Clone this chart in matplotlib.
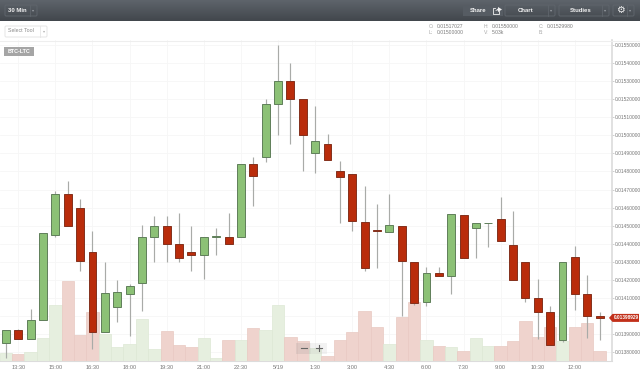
import numpy as np
import matplotlib
matplotlib.use('Agg')
import matplotlib.pyplot as plt
from matplotlib.patches import Rectangle, Polygon, FancyBboxPatch

plt.rcParams['font.family'] = ['Liberation Sans', 'DejaVu Sans']

# ---------- data ----------
opens = [0.013852, 0.013920, 0.013870, 0.013980, 0.014450, 0.014673, 0.014600, 0.014356, 0.013910, 0.014048,
         0.014120, 0.014180, 0.014440, 0.014500, 0.014400, 0.014354, 0.014340, 0.014438, 0.014440, 0.014440,
         0.014842, 0.014880, 0.015176, 0.015300, 0.015200, 0.014903, 0.014954, 0.014800, 0.014786, 0.014522,
         0.014476, 0.014463, 0.014500, 0.014300, 0.014079, 0.014240, 0.014220, 0.014560, 0.014485, 0.014516,
         0.014538, 0.014394, 0.014300, 0.014097, 0.014022, 0.013865, 0.014328, 0.014120, 0.014000]
highs = [0.013920, 0.013930, 0.014040, 0.014460, 0.014690, 0.014750, 0.014650, 0.014470, 0.014300, 0.014200,
         0.014175, 0.014505, 0.014555, 0.014555, 0.014570, 0.014500, 0.014440, 0.014487, 0.014570, 0.014840,
         0.014878, 0.015200, 0.015500, 0.015403, 0.015200, 0.015160, 0.015008, 0.014856, 0.014786, 0.014720,
         0.014622, 0.014674, 0.014500, 0.014300, 0.014270, 0.014270, 0.014565, 0.014560, 0.014516, 0.014516,
         0.014660, 0.014580, 0.014300, 0.014203, 0.014057, 0.014300, 0.014385, 0.014227, 0.014020]
lows = [0.013770, 0.013870, 0.013870, 0.013980, 0.014440, 0.014500, 0.014250, 0.013815, 0.013910, 0.013965,
        0.013890, 0.014030, 0.014300, 0.014300, 0.014300, 0.014250, 0.014206, 0.014340, 0.014400, 0.014440,
        0.014609, 0.014855, 0.015000, 0.014954, 0.014800, 0.014790, 0.014864, 0.014514, 0.014472, 0.014250,
        0.014264, 0.014463, 0.014002, 0.014060, 0.014057, 0.014220, 0.014120, 0.014320, 0.014320, 0.014383,
        0.014415, 0.014200, 0.014080, 0.013874, 0.013840, 0.013856, 0.014035, 0.013880, 0.013867]
closes = [0.013920, 0.013870, 0.013980, 0.014457, 0.014673, 0.014500, 0.014304, 0.013910, 0.014125, 0.014130,
          0.014164, 0.014440, 0.014500, 0.014400, 0.014320, 0.014340, 0.014440, 0.014442, 0.014400, 0.014842,
          0.014775, 0.015172, 0.015300, 0.015200, 0.015000, 0.014970, 0.014864, 0.014770, 0.014525, 0.014264,
          0.014470, 0.014502, 0.014302, 0.014070, 0.014240, 0.014220, 0.014562, 0.014320, 0.014516, 0.014516,
          0.014415, 0.014200, 0.014100, 0.014022, 0.013840, 0.014300, 0.014123, 0.014000, 0.013990]
volumes = [8, 7, 9, 23, 56, 80, 26, 49, 27, 14, 17, 42, 12, 30, 16, 14, 23, 3, 21, 21, 33, 31, 56, 24, 20,
           13, 5, 21, 29, 50, 34, 17, 44, 59, 21, 15, 14, 10, 23, 15, 15, 20, 40, 24, 34, 20, 34, 38, 10]
time_labels = ['13:30', '15:00', '16:30', '18:00', '19:30', '21:00', '22:30', '5/19', '1:30', '3:00',
               '4:30', '6:00', '7:30', '9:00', '10:30', '12:00']
price_ticks = [0.0138, 0.0139, 0.0140, 0.0141, 0.0142, 0.0143, 0.0144, 0.0145, 0.0146, 0.0147, 0.0148, 0.0149,
               0.0150, 0.0151, 0.0152, 0.0153, 0.0154, 0.0155]
hidden_tick = 0.0140   # sits under the last price tag
last_price = 0.01398929

opens, highs, lows, closes = map(np.array, (opens, highs, lows, closes))
idx = np.arange(len(opens))
up = closes >= opens

W, H = 640, 370
fig = plt.figure(figsize=(W / 100, H / 100), dpi=100, facecolor='white')
rect = [0, (H - 361.3) / H, 612 / W, (361.3 - 40) / H]
xlim = (-0.477, 49.0)
ylim = (0.013749, 0.015528)

# ---------- grid, ticks ----------
ax_bg = fig.add_axes(rect, zorder=1)
ax_bg.set_xlim(xlim); ax_bg.set_ylim(ylim)
ax_bg.set_xticks(idx[1::3][:len(time_labels)], time_labels)
ax_bg.set_yticks(price_ticks, ['' if p == hidden_tick else '%.8f' % p for p in price_ticks])
ax_bg.yaxis.tick_right()
ax_bg.grid(color='#f6f6f6', lw=0.6)
ax_bg.tick_params(axis='x', length=0, labelsize=4.1, labelcolor='#777777', pad=3)
ax_bg.tick_params(axis='y', length=1.5, width=0.5, color='#bbbbbb', labelsize=3.5, labelcolor='#777777', pad=0.6)
for s in ['top', 'left']:
    ax_bg.spines[s].set_visible(False)
ax_bg.spines['right'].set_color('#dcdcdc'); ax_bg.spines['right'].set_linewidth(1.2)
ax_bg.spines['bottom'].set_color('#dcdcdc'); ax_bg.spines['bottom'].set_linewidth(0.8)

# ---------- volume ----------
ax_vol = fig.add_axes(rect, zorder=2)
ax_vol.patch.set_alpha(0)
ax_vol.set_xlim(xlim); ax_vol.set_ylim(0, 321.3)
ax_vol.axis('off')
vol_cols = ['#e6efdf' if u else '#efd3cd' for u in up]
vol_edge = ['#dde8d5' if u else '#e9c9c2' for u in up]
ax_vol.bar(idx, volumes, width=1.0, color=vol_cols, edgecolor=vol_edge, linewidth=0.5)

# ---------- candles ----------
ax = fig.add_axes(rect, zorder=3)
ax.patch.set_alpha(0)
ax.set_xlim(xlim); ax.set_ylim(ylim)
ax.axis('off')
ax.vlines(idx, lows, highs, color='#a9aba8', lw=0.85, zorder=1)
body_cols = ['#8cc176' if u else '#b92c0b' for u in up]
body_edge = ['#5f7f5a' if u else '#84301c' for u in up]
ax.bar(idx, np.abs(closes - opens), bottom=np.minimum(opens, closes), width=0.64,
       color=body_cols, edgecolor=body_edge, linewidth=0.7, zorder=2)

# ---------- page chrome, in pixels ----------
ui = fig.add_axes([0, 0, 1, 1], zorder=4)
ui.patch.set_alpha(0)
ui.set_xlim(0, W); ui.set_ylim(H, 0)
ui.axis('off')

grad = np.linspace(0, 1, 22)[:, None, None] * (np.array([66, 71, 77]) - np.array([95, 101, 108])) + np.array([95, 101, 108])
ui.imshow(grad.astype(np.uint8), extent=(0, W, 21.5, 0), aspect='auto', zorder=0)
ui.set_xlim(0, W); ui.set_ylim(H, 0)
ui.plot([0, W], [40.5, 40.5], color='#eeeeee', lw=0.8)

def button(x0, x1, y0=5, y1=16, sep=None):
    ui.add_patch(FancyBboxPatch((x0, y0), x1 - x0, y1 - y0, boxstyle='round,pad=0,rounding_size=1.2',
                                fc='none', ec='#5f656c', lw=0.7, zorder=1))
    if sep:
        ui.plot([sep, sep], [y0, y1], color='#5f656c', lw=0.6, zorder=1)
        ui.text((sep + x1) / 2, (y0 + y1) / 2, '▾', color='#9a9fa5', fontsize=3,
                ha='center', va='center', zorder=2)

button(5, 37, sep=30)
button(505, 555, sep=548)
button(559, 609, sep=602)
button(613, 634, sep=627)
ui.add_patch(Rectangle((463, 5), 40, 11, fc='#565c63', ec='none', zorder=1))
for x, s in [(17.5, '30 Min'), (478, 'Share'), (526, 'Chart'), (581, 'Studies')]:
    ui.text(x, 10.5, s, color='#f2f2f2', fontsize=4.3, fontweight='bold', ha='center', va='center', zorder=3)

# share icon and gear
ui.plot([495, 493, 493, 499, 499], [8, 8, 13.5, 13.5, 11], color='#f0f0f0', lw=0.6, zorder=3)
ui.add_patch(Polygon([[495, 11], [498, 8.5], [498, 7], [502, 9.5], [498, 12], [498, 10.3]],
                     fc='#f0f0f0', ec='none', zorder=3))
ui.text(620, 10.3, '⚙', color='#f0f0f0', fontsize=7, ha='center', va='center', zorder=3,
        family=['DejaVu Sans'])

# select tool box
ui.add_patch(FancyBboxPatch((5, 26), 42, 11, boxstyle='round,pad=0,rounding_size=1.2',
                            fc='white', ec='#e6e6e6', lw=0.7, zorder=1))
ui.plot([40, 40], [26, 37], color='#e6e6e6', lw=0.6, zorder=1)
ui.text(21, 31, 'Select Tool', color='#8a8a8a', fontsize=3.8, ha='center', va='center', zorder=2)
ui.text(44, 31, '▾', color='#b0b0b0', fontsize=3, ha='center', va='center', zorder=2)

# ohlc readout
for x, y, lab, val in [(429, 27, 'O:', '0.01517027'), (429, 33, 'L:', '0.01500000'),
                       (484, 27, 'H:', '0.01550000'), (484, 33, 'V:', '5.03k'),
                       (539, 27, 'C:', '0.01529980'), (539, 33, 'B:', '')]:
    ui.text(x, y, lab, color='#a8a8a8', fontsize=3.6, va='center')
    ui.text(x + 8, y, val, color='#7a7a7a', fontsize=3.6, va='center')

# symbol tag
ui.add_patch(Rectangle((4, 47), 29.5, 9.3, fc='#a5a5a5', ec='none', zorder=1))
ui.text(18.7, 51.7, 'BTC-LTC', color='white', fontsize=3.9, fontweight='bold', ha='center', va='center', zorder=2)

# last price tag
ly = 361.3 - (last_price - ylim[0]) / (ylim[1] - ylim[0]) * 321.3
ui.add_patch(Polygon([[609, ly], [612.5, ly - 4], [639, ly - 4], [639, ly + 4], [612.5, ly + 4]],
                     fc='#c2301a', ec='none', zorder=2))
ui.text(626, ly, '%.8f' % last_price, color='white', fontsize=3.4, fontweight='bold',
        ha='center', va='center', zorder=3)

# zoom control
ui.add_patch(Rectangle((296, 343), 15, 11, fc='#8a8a8a', alpha=0.16, ec='none', zorder=1))
ui.add_patch(Rectangle((311, 343), 16, 11, fc='#bbbbbb', alpha=0.18, ec='none', zorder=1))
ui.plot([301, 307], [348.3, 348.3], color='#666666', lw=0.8, zorder=2)
ui.plot([316, 322], [348.3, 348.3], color='#666666', lw=0.8, zorder=2)
ui.plot([319, 319], [345.3, 351.3], color='#666666', lw=0.8, zorder=2)

fig.savefig('out.png', dpi=100, facecolor='white')
